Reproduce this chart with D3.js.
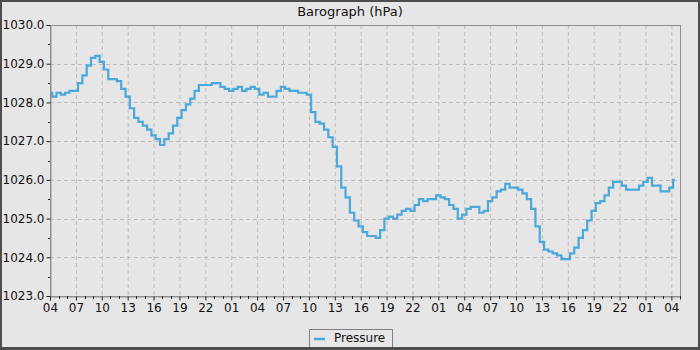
<!DOCTYPE html>
<html><head><meta charset="utf-8">
<script src="https://cdn.jsdelivr.net/npm/d3@7"></script>
<style>
html,body{margin:0;padding:0;background:#e6e6e6;}
text{font-family:"DejaVu Sans",sans-serif;}
</style></head>
<body>
<svg id="c" width="700" height="350"></svg>
<script>
// Hours since 04:00 on the first day
const hours = [0,0.5,1,1.5,2,2.5,3,3.5,4,4.5,5,5.5,6,6.5,7,7.5,8,8.5,9,9.5,10,10.5,11,11.5,12,12.5,13,13.5,14,14.5,15,15.5,16,16.5,17,17.5,18,18.5,19,19.5,20,20.5,21,21.5,22,22.5,23,23.5,24,24.5,25,25.5,26,26.5,27,27.5,28,28.5,29,29.5,30,30.5,31,31.5,32,32.5,33,33.5,34,34.5,35,35.5,36,36.5,37,37.5,38,38.5,39,39.5,40,40.5,41,41.5,42,42.5,43,43.5,44,44.5,45,45.5,46,46.5,47,47.5,48,48.5,49,49.5,50,50.5,51,51.5,52,52.5,53,53.5,54,54.5,55,55.5,56,56.5,57,57.5,58,58.5,59,59.5,60,60.5,61,61.5,62,62.5,63,63.5,64,64.5,65,65.5,66,66.5,67,67.5,68,68.5,69,69.5,70,70.5,71,71.5,72,72.4];
const pressure = [1028.25,1028.15,1028.25,1028.2,1028.25,1028.3,1028.3,1028.5,1028.7,1028.95,1029.15,1029.2,1029.05,1028.85,1028.6,1028.6,1028.55,1028.35,1028.15,1027.85,1027.6,1027.5,1027.4,1027.3,1027.15,1027.05,1026.9,1027.05,1027.2,1027.4,1027.6,1027.8,1027.95,1028.1,1028.3,1028.45,1028.45,1028.45,1028.5,1028.5,1028.4,1028.35,1028.3,1028.35,1028.4,1028.3,1028.35,1028.4,1028.35,1028.2,1028.25,1028.15,1028.15,1028.3,1028.4,1028.35,1028.3,1028.3,1028.25,1028.25,1028.2,1027.75,1027.5,1027.45,1027.3,1027.1,1026.85,1026.35,1025.8,1025.55,1025.15,1024.95,1024.8,1024.65,1024.55,1024.55,1024.5,1024.7,1025.0,1025.05,1025.0,1025.1,1025.2,1025.25,1025.2,1025.35,1025.5,1025.45,1025.5,1025.5,1025.6,1025.55,1025.5,1025.35,1025.25,1025.0,1025.1,1025.25,1025.3,1025.3,1025.15,1025.2,1025.45,1025.55,1025.7,1025.75,1025.9,1025.8,1025.8,1025.75,1025.65,1025.5,1025.25,1024.8,1024.4,1024.2,1024.15,1024.1,1024.05,1023.95,1023.95,1024.1,1024.25,1024.5,1024.7,1024.95,1025.2,1025.4,1025.45,1025.6,1025.8,1025.95,1025.95,1025.85,1025.75,1025.75,1025.75,1025.85,1025.95,1026.05,1025.85,1025.85,1025.7,1025.7,1025.8,1026.0];
const xTickHours = d3.range(0, 73, 3);
const xTickLabels = ["04","07","10","13","16","19","22","01","04","07","10","13","16","19","22","01","04","07","10","13","16","19","22","01","04"];
const yTicks = [1023,1024,1025,1026,1027,1028,1029,1030];
const title = "Barograph (hPa)";
const seriesName = "Pressure";
const lineColor = "#4aa8da";

const svg = d3.select("#c");
const W = 700, H = 350;
const m = {left:50, right:20, top:25, bottom:54};
const x = d3.scaleLinear().domain([0,73]).range([m.left, W-m.right]);
const y = d3.scaleLinear().domain([1023,1030]).range([H-m.bottom, m.top]);

svg.append("rect").attr("x",0).attr("y",0).attr("width",W).attr("height",H).attr("fill","#e6e6e6");

// grid
const g = svg.append("g");
g.selectAll(".vg").data(xTickHours.filter(h=>h>0)).join("line")
  .attr("x1",d=>x(d)+0.5).attr("x2",d=>x(d)+0.5).attr("y1",m.top).attr("y2",H-m.bottom)
  .attr("stroke","#bcbcbc").attr("stroke-dasharray","4,3");
g.selectAll(".hg").data(yTicks.filter(v=>v>1023&&v<1030)).join("line")
  .attr("y1",d=>Math.round(y(d))+0.5).attr("y2",d=>Math.round(y(d))+0.5).attr("x1",m.left).attr("x2",W-m.right)
  .attr("stroke","#bcbcbc").attr("stroke-dasharray","4,3");

// plot frame
svg.append("rect").attr("x",m.left+0.5).attr("y",m.top+0.5)
  .attr("width",W-m.right-m.left).attr("height",H-m.bottom-m.top)
  .attr("fill","none").attr("stroke","#8f8f8f");

// line
const data = hours.map((h,i)=>[h,pressure[i]]);
svg.append("path").datum(data)
  .attr("d", d3.line().x(d=>x(d[0])).y(d=>y(d[1])).curve(d3.curveStep))
  .attr("fill","none").attr("stroke",lineColor).attr("stroke-width",2.2);

// axes
const yAxis = d3.axisLeft(y).tickValues(yTicks).tickFormat(d3.format(".1f")).tickSize(4).tickPadding(2);
const ya = svg.append("g").attr("transform",`translate(${m.left+0.5},0)`).call(yAxis);
const yMinor = d3.range(1023.5,1030,1);
svg.append("g").selectAll("line").data(yMinor).join("line")
  .attr("x1",m.left-2).attr("x2",m.left).attr("y1",d=>Math.round(y(d))+0.5).attr("y2",d=>Math.round(y(d))+0.5)
  .attr("stroke","#222");

const xAxis = d3.axisBottom(x).tickValues(xTickHours).tickFormat((d,i)=>xTickLabels[i]).tickSize(4).tickPadding(3);
const xa = svg.append("g").attr("transform",`translate(0,${H-m.bottom+0.5})`).call(xAxis);
const xMinor = d3.range(0,74,1).filter(h=>h%3!==0);
svg.append("g").selectAll("line").data(xMinor).join("line")
  .attr("x1",d=>Math.round(x(d))+0.5).attr("x2",d=>Math.round(x(d))+0.5)
  .attr("y1",H-m.bottom).attr("y2",H-m.bottom+3).attr("stroke","#222");

[ya,xa].forEach(a=>{
  a.select(".domain").attr("stroke","#8f8f8f");
  a.selectAll(".tick line").attr("stroke","#222");
  a.selectAll(".tick text").attr("font-family","DejaVu Sans").attr("font-size",12).attr("fill","#111");
});

// title
svg.append("text").attr("x",350).attr("y",16).attr("text-anchor","middle")
  .attr("font-size",13).attr("fill","#111").text(title);

// legend
const lg = svg.append("g");
lg.append("rect").attr("x",309.5).attr("y",329.5).attr("width",83).attr("height",19)
  .attr("fill","#e6e6e6").attr("stroke","#808080");
lg.append("line").attr("x1",314).attr("x2",325).attr("y1",339).attr("y2",339)
  .attr("stroke",lineColor).attr("stroke-width",2.5);
lg.append("text").attr("x",334).attr("y",342).attr("font-size",12).attr("fill","#111").text(seriesName);

// outer border
svg.append("rect").attr("x",1).attr("y",1).attr("width",W-2).attr("height",H-3)
  .attr("fill","none").attr("stroke","#4d4d4d").attr("stroke-width",2);
svg.append("rect").attr("x",0).attr("y",H-3).attr("width",W).attr("height",3).attr("fill","#4d4d4d");
</script>
</body></html>
